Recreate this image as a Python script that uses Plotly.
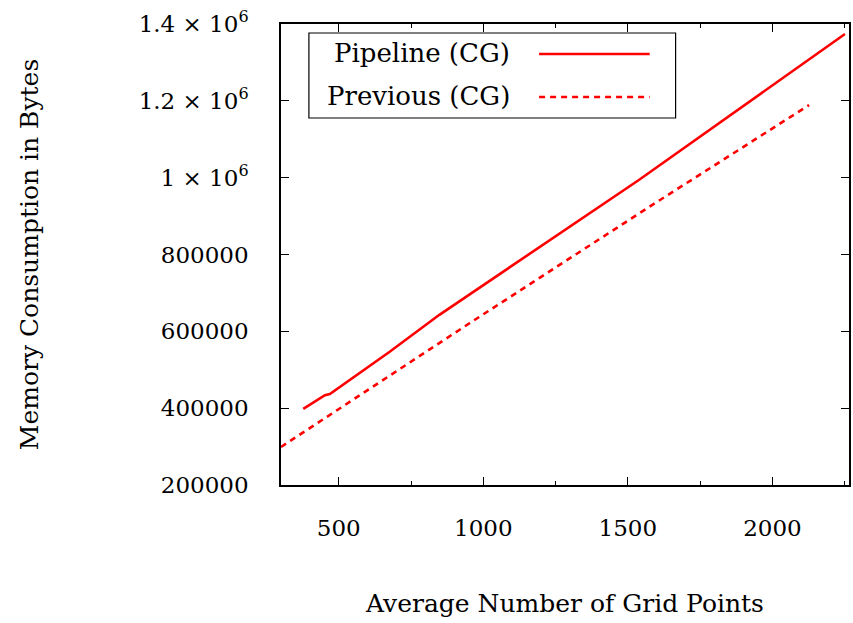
import plotly.graph_objects as go

# Memory consumption vs. average grid points (CG solver)
pipeline_x = [377, 452, 469, 676, 848, 1538, 2251]
pipeline_y = [398000, 434000, 437000, 547000, 643000, 994000, 1374000]

previous_x = [300, 952, 1578, 2127]
previous_y = [299000, 621000, 926000, 1189000]

y_tickvals = [200000, 400000, 600000, 800000, 1000000, 1200000, 1400000]
y_ticktext = ["200000", "400000", "600000", "800000",
              "1 × 10<sup>6</sup>", "1.2 × 10<sup>6</sup>", "1.4 × 10<sup>6</sup>"]
x_tickvals = [500, 1000, 1500, 2000]
x_ticktext = ["500", "1000", "1500", "2000"]

legend_labels = ["Pipeline (CG)", "Previous (CG)"]

FONT = "DejaVu Serif"
FS_TICK = 23
FS_TITLE = 25
FS_LEG = 26
RED = "#ff0000"
LW = 2.6
DASH = "6px,5px"
W, H = 853, 623
ML, MR, MT, MB = 281, 2, 24, 138

fig = go.Figure()
fig.add_trace(go.Scatter(x=pipeline_x, y=pipeline_y, mode="lines",
                         line=dict(color=RED, width=LW), name=legend_labels[0],
                         showlegend=False))
fig.add_trace(go.Scatter(x=previous_x, y=previous_y, mode="lines",
                         line=dict(color=RED, width=LW, dash=DASH),
                         name=legend_labels[1], showlegend=False))

axis_common = dict(showgrid=False, zeroline=False, showline=True, linecolor="black",
                   linewidth=1.5, ticks="inside", ticklen=8, tickcolor="black",
                   tickwidth=1.2, mirror="allticks",
                   tickfont=dict(family=FONT, size=FS_TICK, color="black"))

fig.update_xaxes(range=[300, 2265], tickvals=x_tickvals, ticktext=x_ticktext,
                 minor=dict(ticks="inside", ticklen=4, dtick=250, tick0=0,
                            tickcolor="black", tickwidth=1),
                 ticklabelstandoff=22,
                 title=dict(text="Average Number of Grid Points",
                            font=dict(family=FONT, size=FS_TITLE, color="black"),
                            standoff=54),
                 **axis_common)
fig.update_yaxes(range=[200000, 1400000], tickvals=y_tickvals, ticktext=y_ticktext,
                 ticklabelstandoff=26,
                 title=dict(text="Memory Consumption in Bytes",
                            font=dict(family=FONT, size=FS_TITLE, color="black"),
                            standoff=93),
                 **axis_common)

# Legend drawn as a framed box with right-aligned labels and line samples
pw, ph = W - ML - MR, H - MT - MB


def px_x(v):
    return (v - ML) / pw


def px_y(v):
    return (H - MB - v) / ph


shapes = [
    dict(type="rect", xref="paper", yref="paper",
         x0=px_x(309), x1=px_x(677), y0=px_y(118), y1=px_y(33),
         line=dict(color="black", width=1.2), fillcolor="white", layer="above"),
    dict(type="line", xref="paper", yref="paper",
         x0=px_x(540), x1=px_x(651), y0=px_y(54), y1=px_y(54),
         line=dict(color=RED, width=LW), layer="above"),
    dict(type="line", xref="paper", yref="paper",
         x0=px_x(540), x1=px_x(651), y0=px_y(97), y1=px_y(97),
         line=dict(color=RED, width=LW, dash=DASH), layer="above"),
]
annotations = [
    dict(text=legend_labels[0], xref="paper", yref="paper", x=px_x(513), y=px_y(53),
         xanchor="right", yanchor="middle", showarrow=False,
         font=dict(family=FONT, size=FS_LEG, color="black")),
    dict(text=legend_labels[1], xref="paper", yref="paper", x=px_x(513), y=px_y(96),
         xanchor="right", yanchor="middle", showarrow=False,
         font=dict(family=FONT, size=FS_LEG, color="black")),
]

fig.update_layout(width=W, height=H, margin=dict(l=ML, r=MR, t=MT, b=MB),
                  plot_bgcolor="white", paper_bgcolor="white",
                  shapes=shapes, annotations=annotations, showlegend=False)

fig.write_html("out.html")
